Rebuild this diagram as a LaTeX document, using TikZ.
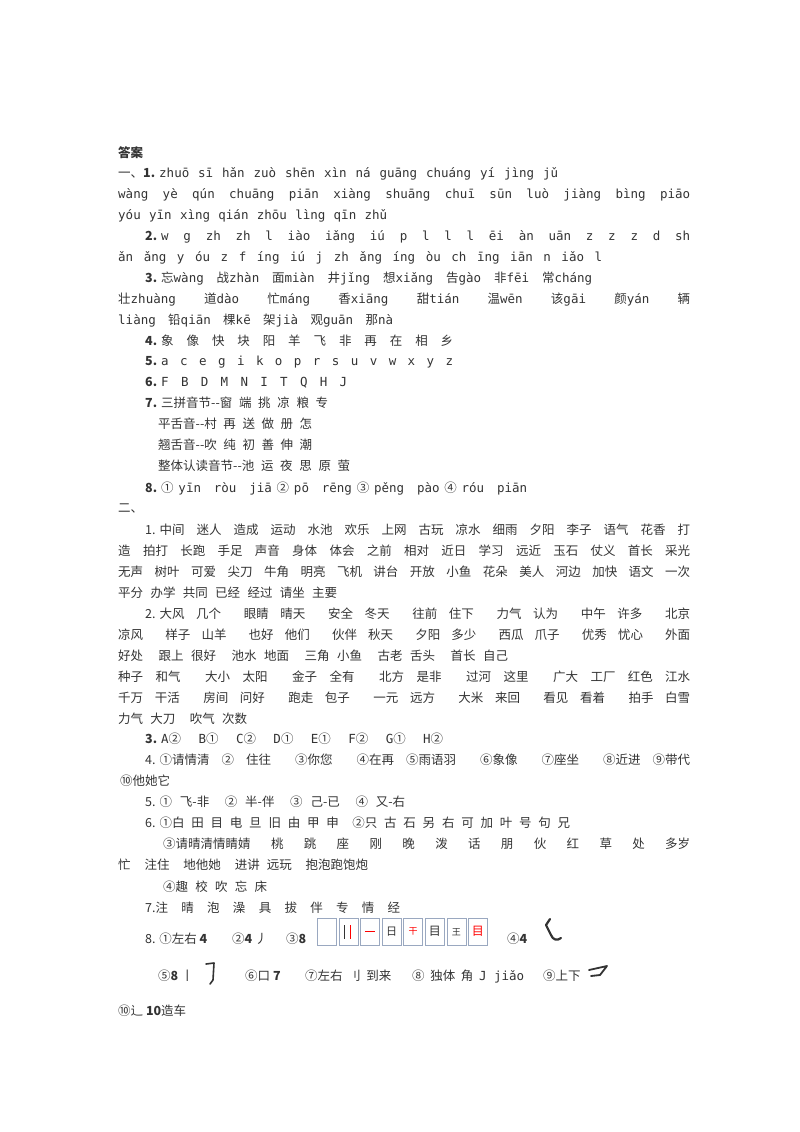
\documentclass[tikz,border=0pt]{standalone}
\usepackage{fontspec}
\setmainfont{Noto Sans CJK SC}
\newfontfamily\py{DejaVu Sans Mono}
\definecolor{ink}{HTML}{333333}
\definecolor{gridc}{HTML}{9AA8C0}
\newcommand\Lrow[5]{\node[txt] (#1) at (#2,#3) {\makebox[#4pt][s]{#5}};}
\newcommand\Lnat[4]{\node[txt] (#1) at (#2,#3) {#4};}
\newcommand\nm[1]{\hbox{#1\kern4pt}}
\begin{document}
\begin{tikzpicture}[x=1pt,y=-1pt,
  txt/.style={anchor=base west,inner sep=0pt,text=ink,font=\fontsize{12.5}{14}\selectfont},
  cell/.style={draw=gridc,line width=0.5pt,minimum width=19pt,minimum height=27pt,inner sep=0pt,anchor=north west},
  stroke/.style={line width=2.2pt,line cap=round,line join=round,ink}]
\useasboundingbox (0,0) rectangle (800,1132);
\Lnat{t0}{118}{157}{\textbf{答案}}
\Lrow{a1}{118}{177}{440}{\nm{一、\textbf{1.}}{\py zhuō sī hǎn zuò shēn xìn ná guāng chuáng yí jìng jǔ}}
\Lrow{a2}{118}{198}{572}{\py wàng yè qún chuāng piān xiàng shuāng chuī sūn luò jiàng bìng piāo}
\Lrow{a3}{118}{219}{269}{\py yóu yīn xìng qián zhōu lìng qīn zhǔ}
\Lrow{a4}{145}{240}{545}{\nm{\textbf{2.}}\py w g zh zh l iào iǎng iú p l l l ēi àn uān z z z d sh}
\Lrow{a5}{118}{261}{484}{\py ǎn ǎng y óu z f íng iú j zh ǎng íng òu ch īng iān n iǎo l}
\Lrow{a6}{145}{282}{447}{\nm{\textbf{3.}}忘{\py wàng} 战{\py zhàn} 面{\py miàn} 井{\py jǐng} 想{\py xiǎng} 告{\py gào} 非{\py fēi} 常{\py cháng}}
\Lrow{a7}{118}{303}{572}{壮{\py zhuàng} 道{\py dào} 忙{\py máng} 香{\py xiāng} 甜{\py tián} 温{\py wēn} 该{\py gāi} 颜{\py yán} 辆}
\Lrow{a8}{118}{324}{275}{{\py liàng} 铅{\py qiān} 棵{\py kē} 架{\py jià} 观{\py guān} 那{\py nà}}
\Lrow{a9}{145}{345}{308}{\nm{\textbf{4.}}象 像 快 块 阳 羊 飞 非 再 在 相 乡}
\Lrow{a10}{145}{365}{308}{\nm{\textbf{5.}}\py a c e g i k o p r s u v w x y z}
\Lrow{a11}{145}{386}{202}{\nm{\textbf{6.}}\py F B D M N I T Q H J}
\Lrow{a12}{145}{407}{183}{\nm{\textbf{7.}}三拼音节-{}-窗 端 挑 凉 粮 专}
\Lrow{a13}{158}{428}{154}{平舌音-{}-村 再 送 做 册 怎}
\Lrow{a14}{158}{449}{154}{翘舌音-{}-吹 纯 初 善 伸 潮}
\Lrow{a15}{158}{470}{192}{整体认读音节-{}-池 运 夜 思 原 萤}
\Lrow{a16}{145}{492}{382}{\nm{\textbf{8.}}① {\py yīn ròu jiā} ② {\py pō rēng} ③ {\py pěng pào} ④ {\py róu piān}}
\Lnat{b0}{118}{512}{二、}
\Lrow{b1}{145}{534}{545}{\nm{1.}中间 迷人 造成 运动 水池 欢乐 上网 古玩 凉水 细雨 夕阳 李子 语气 花香 打}
\Lrow{b2}{118}{555}{572}{造 拍打 长跑 手足 声音 身体 体会 之前 相对 近日 学习 远近 玉石 仗义 首长 采光}
\Lrow{b3}{118}{576}{572}{无声 树叶 可爱 尖刀 牛角 明亮 飞机 讲台 开放 小鱼 花朵 美人 河边 加快 语文 一次}
\Lrow{b4}{118}{597}{219}{平分 办学 共同 已经 经过 请坐 主要}
\Lrow{b5}{145}{618}{545}{\nm{2.}大风 几个 \ 眼睛 晴天 \ 安全 冬天 \ 往前 住下 \ 力气 认为 \ 中午 许多 \ 北京}
\Lrow{b6}{118}{639}{572}{凉风 \ 样子 山羊 \ 也好 他们 \ 伙伴 秋天 \ 夕阳 多少 \ 西瓜 爪子 \ 优秀 忧心 \ 外面}
\Lrow{b7}{118}{660}{390}{好处 \ 跟上 很好 \ 池水 地面 \ 三角 小鱼 \ 古老 舌头 \ 首长 自己}
\Lrow{b8}{118}{681}{572}{种子 和气 \ 大小 太阳 \ 金子 全有 \ 北方 是非 \ 过河 这里 \ 广大 工厂 红色 江水}
\Lrow{b9}{118}{702}{572}{千万 干活 \ 房间 问好 \ 跑走 包子 \ 一元 远方 \ 大米 来回 \ 看见 看着 \ 拍手 白雪}
\Lrow{b10}{118}{723}{129}{力气 大刀 \ 吹气 次数}
\Lrow{b11}{145}{743}{298}{\nm{\textbf{3.}}{\py A}② {\py B}① {\py C}② {\py D}① {\py E}① {\py F}② {\py G}① {\py H}②}
\Lrow{b12}{145}{764}{545}{\nm{4.}①请情清 ② 住往 \ ③你您 \ ④在再 ⑤雨语羽 \ ⑥象像 \ ⑦座坐 \ ⑧近进 ⑨带代}
\Lnat{b13}{120}{785}{⑩他她它}
\Lrow{b14}{145}{806}{260}{\nm{5.}① 飞-非 \ ② 半-伴 \ ③ 己-已 \ ④ 又-右}
\Lrow{b15}{145}{827}{425}{\nm{6.}①白 田 目 电 旦 旧 由 甲 申 \ ②只 古 石 另 右 可 加 叶 号 句 兄}
\Lrow{b16}{163}{848}{527}{③请晴清情睛婧 \ 桃 \ 跳 \ 座 \ 刚 \ 晚 \ 泼 \ 话 \ 朋 \ 伙 \ 红 \ 草 \ 处 \ 多岁}
\Lrow{b17}{118}{869}{250}{忙 \ 注住 \ 地他她 \ 进讲 远玩 \ 抱泡跑饱炮}
\Lrow{b18}{163}{891}{104}{④趣 校 吹 忘 床}
\Lrow{b19}{145}{912}{255}{7.注 晴 泡 澡 具 拔 伴 专 情 经}
% row 8
\Lnat{c1}{145}{943}{8. ①左右 \textbf{4}}
\Lnat{c2}{232}{943}{②\textbf{4} 丿}
\Lnat{c3}{286}{943}{③\textbf{8}}
\foreach \i in {0,...,7}{\node[cell] (g\i) at (317+\i*21.6,918) {};}
\draw[ink,line width=0.6pt] ([xshift=6pt,yshift=-7pt]g1.north west) -- ([xshift=6pt,yshift=7pt]g1.south west);
\draw[red,line width=0.6pt] ([xshift=12pt,yshift=-7pt]g1.north west) -- ([xshift=12pt,yshift=7pt]g1.south west);
\draw[red,line width=0.8pt] ([xshift=-5pt]g2.center) -- ([xshift=5pt]g2.center);
\node[inner sep=0pt,font=\fontsize{11}{11}\selectfont,text=ink] (h3) at (g3.center) {日};
\node[inner sep=0pt,font=\fontsize{9}{9}\selectfont,text=red] (h4) at (g4.center) {干};
\node[inner sep=0pt,font=\fontsize{12}{12}\selectfont,text=ink] (h5) at (g5.center) {目};
\node[inner sep=0pt,font=\fontsize{9}{9}\selectfont,text=ink] (h6) at (g6.center) {王};
\node[inner sep=0pt,font=\fontsize{12}{12}\selectfont,text=red] (h7) at (g7.center) {目};
\Lnat{c4}{507}{943}{④\textbf{4}}
\draw[stroke] (550,919) -- (546,925) -- (551,935) .. controls (553,940) and (557,941) .. (561,938);
\Lnat{c5}{158}{980}{⑤\textbf{8} 丨}
\draw[stroke,line width=1.6pt] (206,964) -- (214,963) -- (213,980) -- (210,984);
\Lnat{c6}{245}{980}{⑥口 \textbf{7}}
\Lnat{c7}{305}{980}{⑦左右 \ 刂 \ 到来}
\Lnat{c8}{412}{980}{⑧ \ 独体 \ 角 \ {\py J jiǎo}}
\Lnat{c9}{543}{980}{⑨上下}
\draw[stroke,line width=1.8pt] (589,970) -- (607,966) -- (600,975) -- (591,976);
\Lnat{c10}{118}{1015}{⑩辶 \textbf{10}造车}
\end{tikzpicture}
\end{document}
